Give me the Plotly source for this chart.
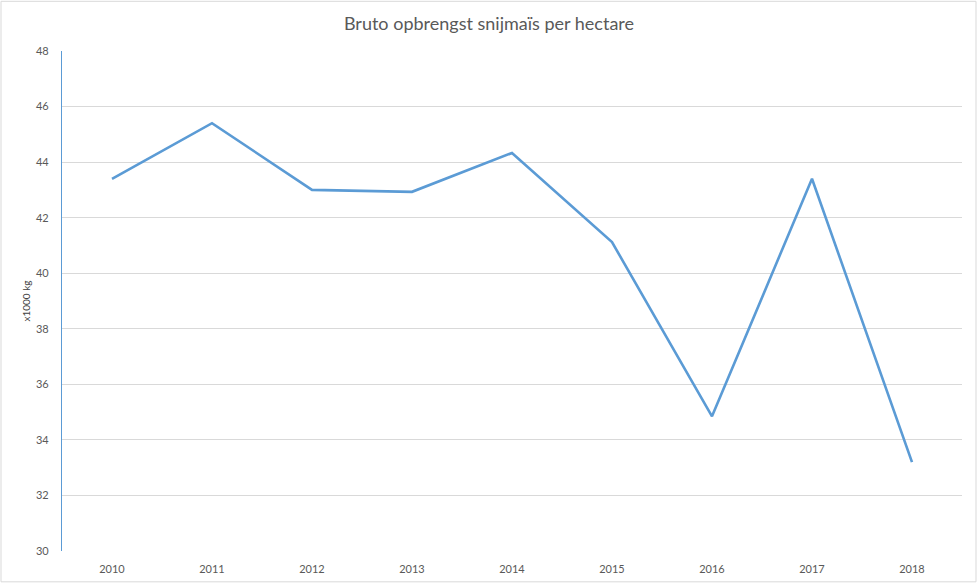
import plotly.graph_objects as go

years = ["2010", "2011", "2012", "2013", "2014", "2015", "2016", "2017", "2018"]
yield_kg = [43.4, 45.4, 43.0, 42.93, 44.33, 41.12, 34.85, 43.4, 33.2]
y_ticks = [30, 32, 34, 36, 38, 40, 42, 44, 46, 48]

W, H = 978, 587
L, R, T, B = 62, 16, 51, 33
pw, ph = W - L - R, H - T - B

def px_x(x):
    return (x - L) / pw

def px_y(y):
    return (H - B - y) / ph

fig = go.Figure()
fig.add_trace(go.Scatter(
    x=years, y=yield_kg, mode="lines",
    line=dict(color="#5B9BD5", width=2.6),
    hoverinfo="x+y",
))

font_family = "Lato, 'Open Sans', sans-serif"
fig.update_layout(
    width=W, height=H, autosize=False,
    margin=dict(l=L, r=R, t=T, b=B, pad=0),
    paper_bgcolor="white", plot_bgcolor="white",
    showlegend=False,
    font=dict(family=font_family, color="#595959", size=11),
    title=dict(text="Bruto opbrengst snijmaïs per hectare", x=0.5, xanchor="center",
               y=1 - 24 / H, yanchor="middle",
               font=dict(size=18, color="#595959", family=font_family)),
    xaxis=dict(type="category", range=[-0.5, 8.5], showgrid=False,
               showline=False, zeroline=False, ticks="", ticklabelstandoff=10,
               tickfont=dict(size=11, color="#595959")),
    yaxis=dict(range=[30, 48], tickvals=y_ticks, showgrid=True, gridcolor="#D9D9D9",
               gridwidth=1, zeroline=False, showline=True, linecolor="#5B9BD5",
               linewidth=1.2, ticks="", ticklabelstandoff=10,
               tickfont=dict(size=11, color="#595959"),
               title=dict(text="x1000 kg", font=dict(size=10, color="#404040"), standoff=3)),
    shapes=[
        dict(type="rect", xref="paper", yref="paper",
             x0=px_x(1), x1=px_x(976), y0=px_y(585), y1=px_y(1),
             line=dict(color="#D9D9D9", width=1), fillcolor="rgba(0,0,0,0)", layer="below"),
    ],
)

fig.write_html("out.html",
               config={"displayModeBar": False, "responsive": False},
               post_script="document.body.style.margin='0';document.body.style.overflow='hidden';")
